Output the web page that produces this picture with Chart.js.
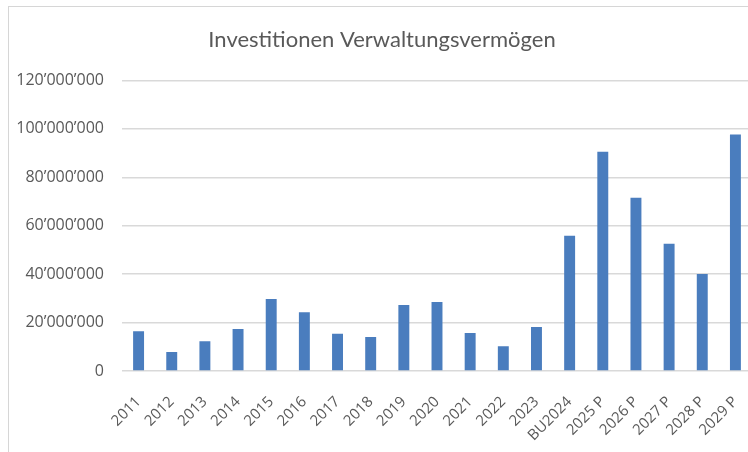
<!DOCTYPE html>
<html><head><meta charset="utf-8">
<script src="https://cdn.jsdelivr.net/npm/chart.js@4"></script>
<style>
html,body{margin:0;padding:0;background:#fff;overflow:hidden;width:748px;height:452px;}
#frame{position:absolute;left:8px;top:6px;width:800px;height:500px;border:1px solid #d6d6d6;box-sizing:border-box;}
#wrap{position:absolute;left:0;top:0;width:752px;height:452px;}
</style></head><body>
<div id="frame"></div>
<div id="wrap"><canvas id="c" width="752" height="452"></canvas></div>
<script>
const chartTitle = 'Investitionen Verwaltungsvermögen';
const categories = ['2011','2012','2013','2014','2015','2016','2017','2018','2019','2020','2021','2022','2023','BU2024','2025 P','2026 P','2027 P','2028 P','2029 P'];
const investitionen = [16400000, 7800000, 12300000, 17300000, 29700000, 24300000, 15400000, 14000000, 27300000, 28500000, 15700000, 10200000, 18200000, 55800000, 90500000, 71500000, 52500000, 40100000, 97700000];
const yMin = 0;
const yMax = 120000000;
const yStep = 20000000;

function fmt(v){
  return Math.round(v).toString().replace(/\B(?=(\d{3})+(?!\d))/g, '\u2019');
}

new Chart(document.getElementById('c'), {
  type: 'bar',
  data: {
    labels: categories,
    datasets: [{
      data: investitionen,
      backgroundColor: '#4a7dbe',
      borderWidth: 0,
      categoryPercentage: 1,
      barPercentage: 0.33
    }]
  },
  options: {
    responsive: false,
    animation: false,
    devicePixelRatio: 1,
    layout: { padding: { left: 12, right: 0, top: 0, bottom: 0 } },
    plugins: {
      legend: { display: false },
      tooltip: { enabled: false },
      title: {
        display: true,
        text: chartTitle,
        color: '#595959',
        font: { family: 'Lato', size: 22, weight: 'normal' },
        padding: { top: 27, bottom: 27 }
      }
    },
    scales: {
      y: {
        min: yMin, max: yMax,
        afterFit: s => { s.width = 110; },
        border: { display: false },
        grid: { color: '#d9d9d9', lineWidth: 1.5, drawTicks: false },
        ticks: {
          stepSize: yStep,
          padding: 18,
          color: '#595959',
          font: { family: 'Open Sans', size: 16 },
          callback: v => fmt(v)
        }
      },
      x: {
        afterFit: s => { s.height = 81; s.paddingLeft = 0; s.paddingRight = 0; },
        border: { display: false },
        grid: { display: false, drawTicks: false },
        ticks: {
          maxRotation: 45, minRotation: 45,
          padding: 22,
          autoSkip: false,
          color: '#595959',
          font: { family: 'Open Sans', size: 15 }
        }
      }
    }
  }
});
</script>
</body></html>
